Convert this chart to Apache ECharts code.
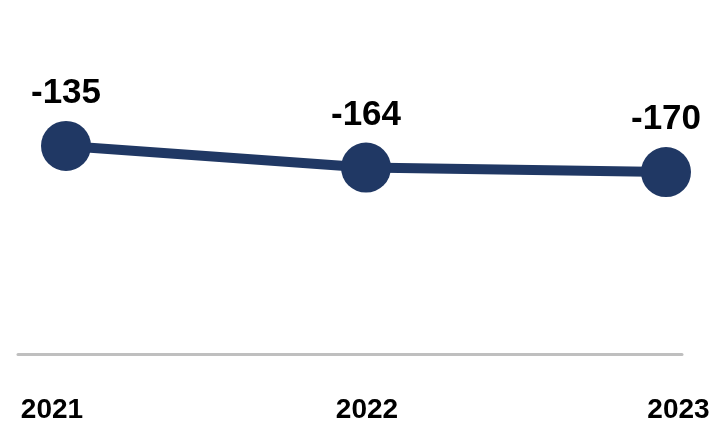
<!DOCTYPE html>
<html>
<head>
<meta charset="utf-8">
<style type="text/css">
	html,body{margin:0;padding:0;background:#fff}
	#main{width:715px;height:424px;}
</style>
</head>
<body>
	<div id="main"></div>
<script src="https://cdn.jsdelivr.net/npm/echarts@6/dist/echarts.min.js"></script>
<script type="text/javascript">
// data
var years = ['2021', '2022', '2023'];
var values = [-135, -164, -170];
var yMin = -400, yMax = 0;

var chart = echarts.init(document.getElementById('main'));

var option = {
    animation: false,
    grid: [
        // grid for the line itself
        {left: 66, right: 49, top: 45, bottom: 71},
        // wider grid only for the grey base line
        {left: 18, right: 33, top: 45, bottom: 70}
    ],
    xAxis: [
        {
            type: 'category',
            gridIndex: 0,
            data: years,
            boundaryGap: false,
            axisLine: {show: false},
            axisTick: {show: false},
            axisLabel: {
                margin: 52,
                // first/last labels sit a little outside the points
                formatter: function (v, i) {
                    return '{y' + i + '|' + v + '}';
                },
                rich: {
                    y0: {fontFamily: 'Liberation Sans', fontWeight: 'bold', fontSize: 28, color: '#000', padding: [0, 28, 0, 0]},
                    y1: {fontFamily: 'Liberation Sans', fontWeight: 'bold', fontSize: 28, color: '#000', padding: [0, 0, 0, 2]},
                    y2: {fontFamily: 'Liberation Sans', fontWeight: 'bold', fontSize: 28, color: '#000', padding: [0, 0, 0, 25]}
                }
            }
        },
        {
            type: 'value',
            gridIndex: 1,
            min: 0,
            max: 1,
            axisLine: {show: true, onZero: false, lineStyle: {color: '#bfbfbf', width: 3}},
            axisTick: {show: false},
            axisLabel: {show: false},
            splitLine: {show: false}
        }
    ],
    yAxis: [
        {
            type: 'value',
            gridIndex: 0,
            min: yMin,
            max: yMax,
            show: false,
            splitLine: {show: false}
        },
        {
            type: 'value',
            gridIndex: 1,
            min: 0,
            max: 1,
            show: false
        }
    ],
    series: [
        {
            type: 'line',
            xAxisIndex: 0,
            yAxisIndex: 0,
            data: values,
            symbol: 'circle',
            symbolSize: 50,
            lineStyle: {color: '#203864', width: 10},
            itemStyle: {color: '#203864'},
            label: {
                show: true,
                position: 'top',
                distance: 10,
                fontFamily: 'Liberation Sans',
                fontWeight: 'bold',
                fontSize: 35,
                color: '#000'
            }
        }
    ]
};

chart.setOption(option);
</script>
</body>
</html>
